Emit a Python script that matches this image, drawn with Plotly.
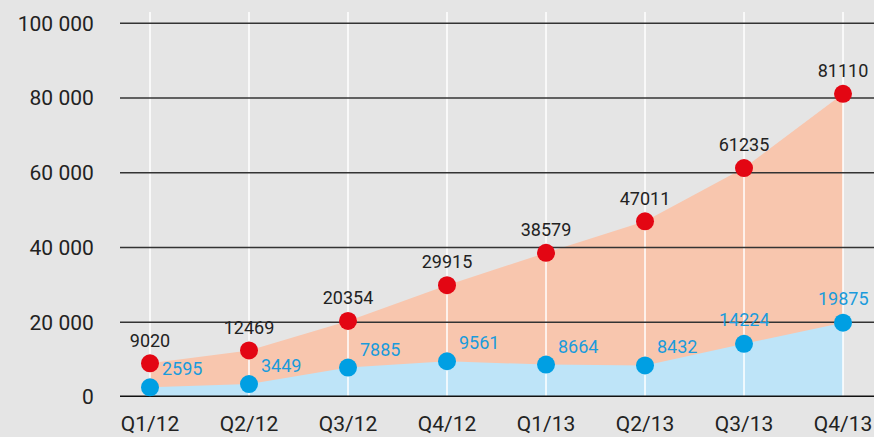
import plotly.graph_objects as go

quarters = ["Q1/12", "Q2/12", "Q3/12", "Q4/12", "Q1/13", "Q2/13", "Q3/13", "Q4/13"]
total_values = [9020, 12469, 20354, 29915, 38579, 47011, 61235, 81110]
part_values = [2595, 3449, 7885, 9561, 8664, 8432, 14224, 19875]
y_ticks = [0, 20000, 40000, 60000, 80000, 100000]
y_tick_labels = ["0", "20 000", "40 000", "60 000", "80 000", "100 000"]

BG = "#e5e5e5"
RED = "#e30613"
SALMON = "#f8c6ae"
BLUE = "#009fe3"
LIGHTBLUE = "#bee4f8"
FONT = "Roboto"

xs = list(range(len(quarters)))
ymax = 103000
xmin, xmax = -0.303, 7.313

fig = go.Figure()
# filled areas
fig.add_trace(go.Scatter(x=xs, y=total_values, mode="lines", line=dict(width=0),
                         fill="tozeroy", fillcolor=SALMON, hoverinfo="skip"))
fig.add_trace(go.Scatter(x=xs, y=part_values, mode="lines", line=dict(width=0),
                         fill="tozeroy", fillcolor=LIGHTBLUE, hoverinfo="skip"))

# vertical grid lines (above fills)
vx, vy = [], []
for x in xs:
    vx += [x, x, None]
    vy += [0, ymax, None]
fig.add_trace(go.Scatter(x=vx, y=vy, mode="lines", line=dict(color="#ffffff", width=1.5),
                         hoverinfo="skip"))
# horizontal grid lines
hx, hy = [], []
for t in y_ticks[1:]:
    hx += [xmin - 1, xmax + 1, None]
    hy += [t, t, None]
fig.add_trace(go.Scatter(x=hx, y=hy, mode="lines", line=dict(color="#333333", width=1.4),
                         hoverinfo="skip"))
# zero line
fig.add_trace(go.Scatter(x=[xmin - 1, xmax + 1], y=[0, 0], mode="lines",
                         line=dict(color="#111111", width=3), hoverinfo="skip", cliponaxis=False))

# markers + labels
fig.add_trace(go.Scatter(x=xs, y=total_values, mode="markers+text",
                         marker=dict(color=RED, size=18),
                         text=[str(v) for v in total_values], textposition="top center",
                         textfont=dict(color="#222222", size=18, family=FONT),
                         hoverinfo="skip"))
fig.add_trace(go.Scatter(x=xs, y=part_values, mode="markers",
                         marker=dict(color=BLUE, size=18),
                         hoverinfo="skip"))

# blue value labels
n = len(quarters)
for i, (x, v) in enumerate(zip(xs, part_values)):
    right = i < n - 2
    fig.add_annotation(x=x, y=v, text=str(v), showarrow=False,
                       xanchor="left" if right else "center", yanchor="bottom",
                       xshift=10 if right else 0, yshift=6 if right else 12,
                       font=dict(color="#1a9bdc", size=18, family=FONT))

fig.update_layout(
    width=874, height=437,
    margin=dict(l=120, r=0, t=12, b=40),
    paper_bgcolor=BG, plot_bgcolor=BG,
    showlegend=False,
    font=dict(family=FONT, color="#222222", size=21),
    xaxis=dict(range=[xmin, xmax], tickvals=xs, ticktext=quarters, showgrid=False,
               zeroline=False, showline=False, ticks="outside", ticklen=8,
               tickcolor="rgba(0,0,0,0)", fixedrange=True, automargin=False),
    yaxis=dict(range=[0, ymax], tickvals=y_ticks, ticktext=y_tick_labels, showgrid=False,
               zeroline=False, showline=False, ticks="outside", ticklen=21,
               tickcolor="rgba(0,0,0,0)", fixedrange=True, automargin=False),
)

fig.write_html("out.html", config={"displayModeBar": False},
               post_script="document.body.style.margin='0';document.body.style.overflow='hidden';")
